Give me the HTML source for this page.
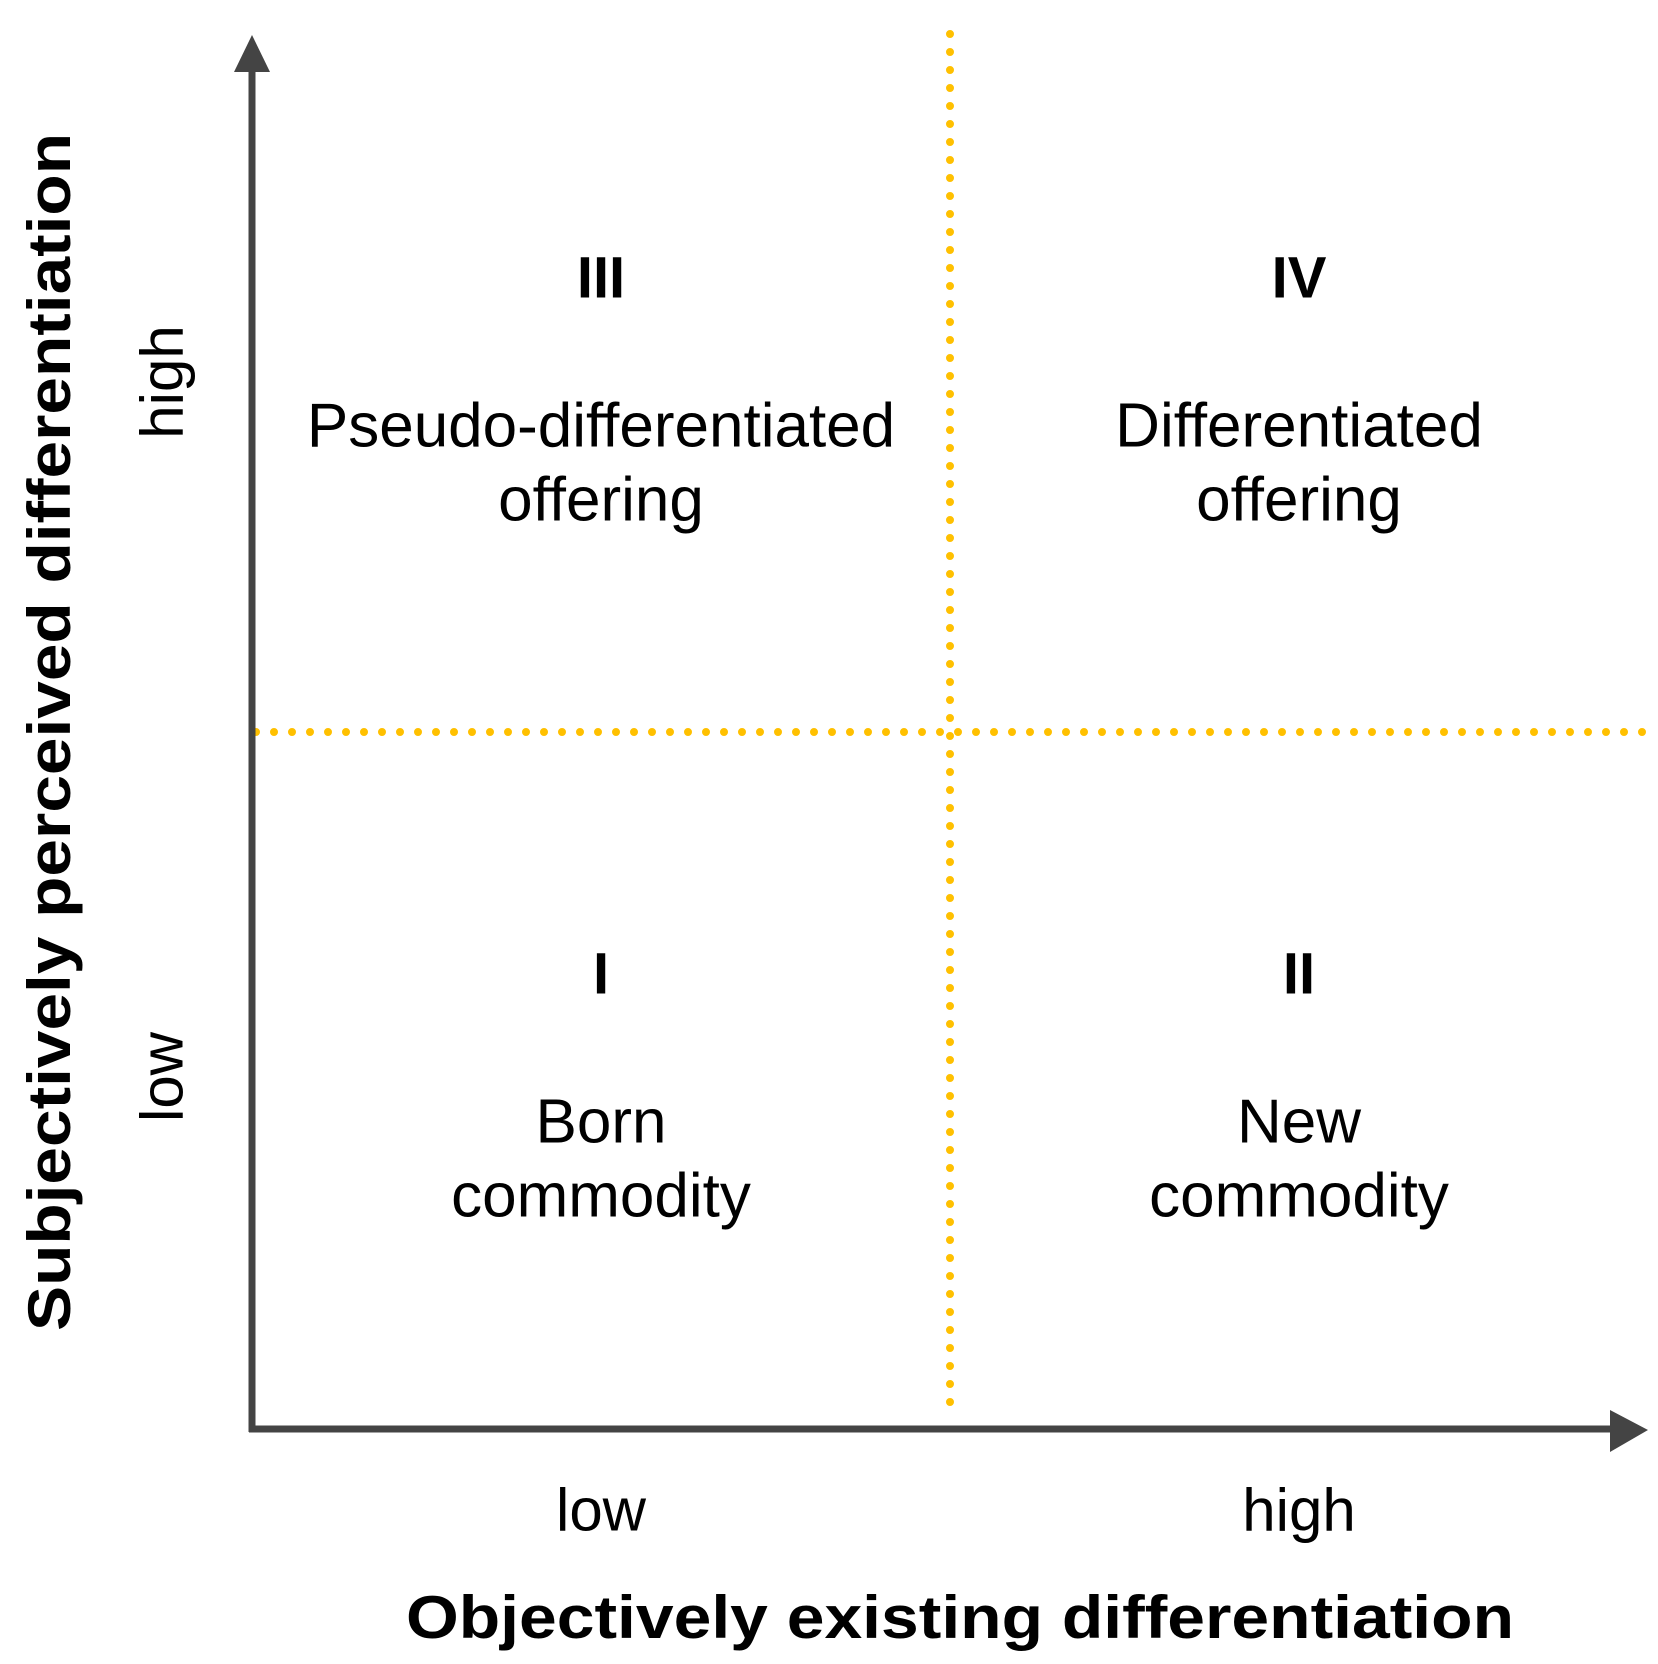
<!DOCTYPE html>
<html><head><meta charset="utf-8"><style>
html,body{margin:0;padding:0;background:#fff;}
svg{display:block;}
text{font-family:"Liberation Sans",Arial,sans-serif;fill:#000;}
</style></head>
<body>
<svg id="chart" width="1658" height="1664" viewBox="0 0 1658 1664" xmlns="http://www.w3.org/2000/svg">
<g>
<line x1="950" y1="34" x2="950" y2="1420" stroke="#ffc000" stroke-width="8" stroke-linecap="round" stroke-dasharray="0 18"/>
<line x1="256" y1="732" x2="1645" y2="732" stroke="#ffc000" stroke-width="8" stroke-linecap="round" stroke-dasharray="0 18"/>
</g>
<g>
<line x1="252" y1="68" x2="252" y2="1432" stroke="#444" stroke-width="7"/>
<line x1="249" y1="1429" x2="1615" y2="1429" stroke="#444" stroke-width="7"/>
<polygon points="252,35 234,72 270,72" fill="#444"/>
<polygon points="1648,1430 1610,1410 1610,1452" fill="#444"/>
</g>
<text x="960" y="1638" text-anchor="middle" font-size="60" font-weight="bold" textLength="1108" lengthAdjust="spacingAndGlyphs">Objectively existing differentiation</text>
<text transform="translate(70,732) rotate(-90)" text-anchor="middle" font-size="60" font-weight="bold" textLength="1198" lengthAdjust="spacingAndGlyphs">Subjectively perceived differentiation</text>
<g id="labels"></g>
</svg>
<script>
const quadrantNumerals = ["III", "IV", "I", "II"];
const quadrantLine1 = ["Pseudo-differentiated", "Differentiated", "Born", "New"];
const quadrantLine2 = ["offering", "offering", "commodity", "commodity"];
const quadrantCol = [0, 1, 0, 1];
const quadrantRow = [1, 1, 0, 0];
const xTickLabels = ["low", "high"];
const yTickLabels = ["low", "high"];

const NS = "http://www.w3.org/2000/svg";
const g = document.getElementById("labels");
function colX(c){ return 601 + c * 698; }
function rowY(r){ return r === 1 ? 278 : 974; }
function mk(txt, x, y, size, bold, name){
  const t = document.createElementNS(NS, "text");
  t.setAttribute("x", x); t.setAttribute("y", y);
  t.setAttribute("text-anchor", "middle");
  t.setAttribute("dominant-baseline", "central");
  t.setAttribute("font-size", size);
  if (bold) t.setAttribute("font-weight", "bold");
  t.textContent = txt;
  
  
  g.appendChild(t);
  return t;
}
for (let i = 0; i < quadrantNumerals.length; i++) {
  const x = colX(quadrantCol[i]), y0 = rowY(quadrantRow[i]);
  mk(quadrantNumerals[i], x, y0, 58, true, "quadrant-numeral");
  mk(quadrantLine1[i], x, y0 + 148, 62, false, "quadrant-label");
  mk(quadrantLine2[i], x, y0 + 222, 62, false, "quadrant-label");
}
for (let i = 0; i < xTickLabels.length; i++) {
  mk(xTickLabels[i], colX(i), 1510, 60, false, "x-tick-label");
}
for (let i = 0; i < yTickLabels.length; i++) {
  const y = i === 1 ? 382 : 1077;
  const t = mk(yTickLabels[i], 0, 0, 60, false, "y-tick-label");
  t.setAttribute("transform", "translate(162," + y + ") rotate(-90)");
}
</script>
</body></html>
